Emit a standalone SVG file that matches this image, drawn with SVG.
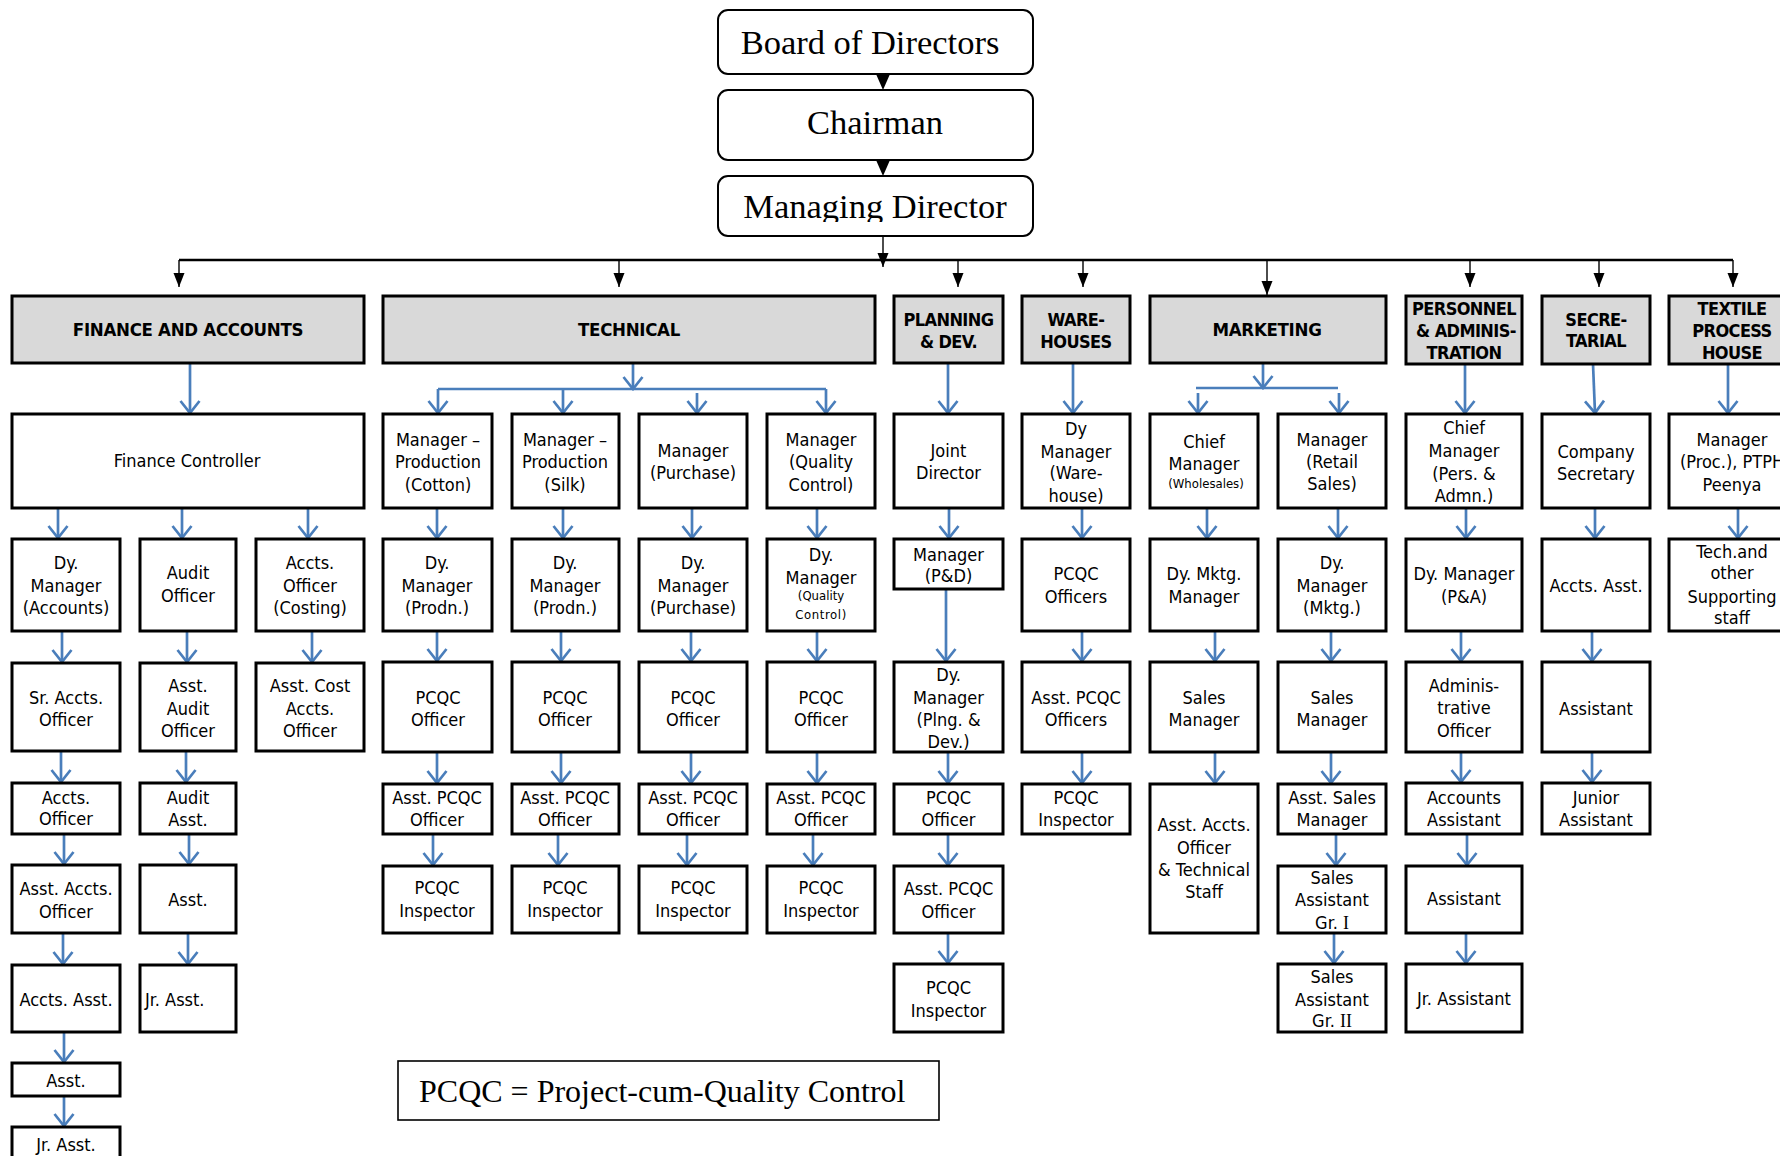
<svg xmlns="http://www.w3.org/2000/svg" width="1780" height="1156" viewBox="0 0 1780 1156">
<style>
.box{fill:#fff;stroke:#000;stroke-width:3}
.dept{fill:#d9d9d9;stroke:#000;stroke-width:3}
.top{fill:#fff;stroke:#000;stroke-width:2}
.t{font-family:"DejaVu Sans Condensed","DejaVu Sans",sans-serif;font-stretch:condensed;font-size:18px;text-anchor:middle;fill:#000}
.h{font-weight:bold;font-size:18.5px;letter-spacing:-0.3px}
.m{font-size:18px;letter-spacing:-0.6px}
.s{font-size:13px}
.ser{font-family:"Liberation Serif","Times New Roman",serif;font-size:34.5px;text-anchor:middle;fill:#000}
.blue{stroke:#4a7ebb;stroke-width:2.7;fill:none;marker-end:url(#ob)}
.blueline{stroke:#4a7ebb;stroke-width:2.7;fill:none}
.blk{stroke:#000;stroke-width:1.4;fill:none;marker-end:url(#tb)}
</style>
<defs>
<marker id="ob" viewBox="-14 -11 16 22" refX="0" refY="0" markerWidth="16" markerHeight="22" markerUnits="userSpaceOnUse" orient="auto">
<path d="M-12,-9.5 L0,0 L-12,9.5" fill="none" stroke="#4a7ebb" stroke-width="2.7"/>
</marker>
<marker id="tb" viewBox="-15 -7 16 14" refX="0" refY="0" markerWidth="16" markerHeight="14" markerUnits="userSpaceOnUse" orient="auto">
<path d="M-14,-5.5 L0,0 L-14,5.5 Z" fill="#000"/>
</marker>
<clipPath id="mdclip"><rect x="718" y="176" width="315" height="46"/></clipPath>
</defs>
<rect width="1780" height="1156" fill="#fff"/>

<!-- connectors -->
<g id="connectors">
<polygon points="876,74 890,74 883,90" fill="#000"/>
<polygon points="876,160 890,160 883,176" fill="#000"/>
<path class="blk" d="M883,236 V267"/>
<path d="M179,260 H1733" stroke="#000" stroke-width="2.5"/>
<path class="blk" d="M179,260 V287"/>
<path class="blk" d="M619,260 V287"/>
<path class="blk" d="M958,260 V287"/>
<path class="blk" d="M1083,260 V287"/>
<path class="blk" d="M1267,260 V295"/>
<path class="blk" d="M1470,260 V287"/>
<path class="blk" d="M1599,260 V287"/>
<path class="blk" d="M1733,260 V287"/>

<!-- finance -->
<path class="blue" d="M190,363 V413"/>
<path class="blue" d="M58,508 V538"/>
<path class="blue" d="M182,508 V538"/>
<path class="blue" d="M308,508 V538"/>
<path class="blue" d="M62,631 V662"/>
<path class="blue" d="M61,751 V782"/>
<path class="blue" d="M64,834 V864"/>
<path class="blue" d="M63,933 V964"/>
<path class="blue" d="M64,1032 V1062"/>
<path class="blue" d="M64,1096 V1126"/>
<path class="blue" d="M187,631 V662"/>
<path class="blue" d="M186,751 V782"/>
<path class="blue" d="M189,834 V864"/>
<path class="blue" d="M188,933 V964"/>
<path class="blue" d="M312,631 V662"/>

<!-- technical -->
<path class="blue" d="M633,363 V389"/>
<path class="blueline" d="M438,389 H826"/>
<path class="blue" d="M438,389 V413"/>
<path class="blue" d="M563,389 V413"/>
<path class="blue" d="M697,393 V413"/>
<path class="blue" d="M826,389 V413"/>
<path class="blue" d="M437,508 V538"/>
<path class="blue" d="M437,631 V661"/>
<path class="blue" d="M437,752 V783"/>
<path class="blue" d="M433,834 V865"/>
<path class="blue" d="M563,508 V538"/>
<path class="blue" d="M561,631 V661"/>
<path class="blue" d="M561,752 V783"/>
<path class="blue" d="M558,834 V865"/>
<path class="blue" d="M692,508 V538"/>
<path class="blue" d="M691,631 V661"/>
<path class="blue" d="M691,752 V783"/>
<path class="blue" d="M687,834 V865"/>
<path class="blue" d="M817,508 V538"/>
<path class="blue" d="M817,631 V661"/>
<path class="blue" d="M817,752 V783"/>
<path class="blue" d="M813,834 V865"/>

<!-- planning -->
<path class="blue" d="M948,363 V413"/>
<path class="blue" d="M949,508 V538"/>
<path class="blue" d="M946,589 V661"/>
<path class="blue" d="M948,752 V783"/>
<path class="blue" d="M948,834 V865"/>
<path class="blue" d="M948,933 V963"/>

<!-- warehouses -->
<path class="blue" d="M1073,363 V413"/>
<path class="blue" d="M1082,508 V538"/>
<path class="blue" d="M1082,631 V661"/>
<path class="blue" d="M1082,752 V783"/>

<!-- marketing -->
<path class="blue" d="M1263,363 V388"/>
<path class="blueline" d="M1196,388 H1338"/>
<path class="blue" d="M1198,393 V413"/>
<path class="blue" d="M1339,393 V413"/>
<path class="blue" d="M1207,508 V538"/>
<path class="blue" d="M1215,631 V661"/>
<path class="blue" d="M1215,752 V783"/>
<path class="blue" d="M1338,508 V538"/>
<path class="blue" d="M1331,631 V661"/>
<path class="blue" d="M1331,752 V783"/>
<path class="blue" d="M1336,834 V865"/>
<path class="blue" d="M1334,933 V963"/>

<!-- personnel -->
<path class="blue" d="M1465,364 V413"/>
<path class="blue" d="M1466,508 V538"/>
<path class="blue" d="M1461,631 V661"/>
<path class="blue" d="M1461,752 V782"/>
<path class="blue" d="M1467,834 V865"/>
<path class="blue" d="M1466,933 V963"/>

<!-- secretarial -->
<path class="blue" d="M1593,364 L1595,413"/>
<path class="blue" d="M1595,508 V538"/>
<path class="blue" d="M1592,631 V661"/>
<path class="blue" d="M1592,752 V782"/>

<!-- textile -->
<path class="blue" d="M1728,364 V413"/>
<path class="blue" d="M1738,508 V538"/>
</g>

<!-- top -->
<g id="board"><rect class="top" x="718" y="10" width="315" height="64" rx="10"/><text class="ser" x="870" y="54">Board of Directors</text></g>
<g id="chairman"><rect class="top" x="718" y="90" width="315" height="70" rx="10"/><text class="ser" x="875" y="134">Chairman</text></g>
<g id="md"><rect class="top" x="718" y="176" width="315" height="60" rx="10"/><text class="ser" x="875" y="218" clip-path="url(#mdclip)">Managing Director</text></g>

<!-- departments -->
<g id="dept-fa"><rect class="dept" x="12" y="296" width="352" height="67"/><text class="t h" x="188" y="336">FINANCE AND ACCOUNTS</text></g>
<g id="dept-tech"><rect class="dept" x="383" y="296" width="492" height="67"/><text class="t h" x="629" y="336">TECHNICAL</text></g>
<g id="dept-plan"><rect class="dept" x="894" y="296" width="109" height="67"/><text class="t h m"><tspan x="948.5" y="326">PLANNING</tspan><tspan x="948.5" y="348">&amp; DEV.</tspan></text></g>
<g id="dept-wh"><rect class="dept" x="1022" y="296" width="108" height="67"/><text class="t h m"><tspan x="1076" y="326">WARE-</tspan><tspan x="1076" y="348">HOUSES</tspan></text></g>
<g id="dept-mkt"><rect class="dept" x="1150" y="296" width="236" height="67"/><text class="t h" x="1267" y="336">MARKETING</text></g>
<g id="dept-pers"><rect class="dept" x="1406" y="296" width="116" height="68"/><text class="t h m"><tspan x="1464" y="315">PERSONNEL</tspan><tspan x="1466" y="337">&amp; ADMINIS-</tspan><tspan x="1464" y="359">TRATION</tspan></text></g>
<g id="dept-sec"><rect class="dept" x="1542" y="296" width="108" height="68"/><text class="t h m"><tspan x="1596" y="326">SECRE-</tspan><tspan x="1596" y="347">TARIAL</tspan></text></g>
<g id="dept-tph"><rect class="dept" x="1669" y="296" width="126" height="68"/><text class="t h m"><tspan x="1732" y="315">TEXTILE</tspan><tspan x="1732" y="337">PROCESS</tspan><tspan x="1732" y="359">HOUSE</tspan></text></g>

<!-- finance nodes -->
<g id="fa-fc"><rect class="box" x="12" y="414" width="352" height="94"/><text class="t" x="187" y="467">Finance Controller</text></g>
<g id="fa-dym"><rect class="box" x="12" y="539" width="108" height="92"/><text class="t"><tspan x="66" y="569">Dy.</tspan><tspan x="66" y="592">Manager</tspan><tspan x="66" y="614">(Accounts)</tspan></text></g>
<g id="fa-srao"><rect class="box" x="12" y="663" width="108" height="88"/><text class="t"><tspan x="66" y="704">Sr. Accts.</tspan><tspan x="66" y="726">Officer</tspan></text></g>
<g id="fa-ao"><rect class="box" x="12" y="783" width="108" height="51"/><text class="t"><tspan x="66" y="804">Accts.</tspan><tspan x="66" y="825">Officer</tspan></text></g>
<g id="fa-aao"><rect class="box" x="12" y="865" width="108" height="68"/><text class="t"><tspan x="66" y="895">Asst. Accts.</tspan><tspan x="66" y="918">Officer</tspan></text></g>
<g id="fa-aa"><rect class="box" x="12" y="965" width="108" height="67"/><text class="t" x="66" y="1006">Accts. Asst.</text></g>
<g id="fa-asst"><rect class="box" x="12" y="1063" width="108" height="33"/><text class="t" x="66" y="1087">Asst.</text></g>
<g id="fa-jra"><rect class="box" x="12" y="1127" width="108" height="36"/><text class="t" x="66" y="1151">Jr. Asst.</text></g>
<g id="fa-audo"><rect class="box" x="140" y="539" width="96" height="92"/><text class="t"><tspan x="188" y="579">Audit</tspan><tspan x="188" y="602">Officer</tspan></text></g>
<g id="fa-aaudo"><rect class="box" x="140" y="663" width="96" height="88"/><text class="t"><tspan x="188" y="692">Asst.</tspan><tspan x="188" y="715">Audit</tspan><tspan x="188" y="737">Officer</tspan></text></g>
<g id="fa-auda"><rect class="box" x="140" y="783" width="96" height="51"/><text class="t"><tspan x="188" y="804">Audit</tspan><tspan x="188" y="826">Asst.</tspan></text></g>
<g id="fa-asst2"><rect class="box" x="140" y="865" width="96" height="68"/><text class="t" x="188" y="906">Asst.</text></g>
<g id="fa-jra2"><rect class="box" x="140" y="965" width="96" height="67"/><text class="t" x="145" y="1006" style="text-anchor:start">Jr. Asst.</text></g>
<g id="fa-aoc"><rect class="box" x="256" y="539" width="108" height="92"/><text class="t"><tspan x="310" y="569">Accts.</tspan><tspan x="310" y="592">Officer</tspan><tspan x="310" y="614">(Costing)</tspan></text></g>
<g id="fa-acao"><rect class="box" x="256" y="663" width="108" height="88"/><text class="t"><tspan x="310" y="692">Asst. Cost</tspan><tspan x="310" y="715">Accts.</tspan><tspan x="310" y="737">Officer</tspan></text></g>

<!-- technical nodes -->
<g id="te-mpc"><rect class="box" x="383" y="414" width="109" height="94"/><text class="t"><tspan x="438" y="446">Manager –</tspan><tspan x="438" y="468">Production</tspan><tspan x="438" y="491">(Cotton)</tspan></text></g>
<g id="te-mps"><rect class="box" x="512" y="414" width="107" height="94"/><text class="t"><tspan x="565" y="446">Manager –</tspan><tspan x="565" y="468">Production</tspan><tspan x="565" y="491">(Silk)</tspan></text></g>
<g id="te-mpu"><rect class="box" x="639" y="414" width="108" height="94"/><text class="t"><tspan x="693" y="457">Manager</tspan><tspan x="693" y="479">(Purchase)</tspan></text></g>
<g id="te-mqc"><rect class="box" x="767" y="414" width="108" height="94"/><text class="t"><tspan x="821" y="446">Manager</tspan><tspan x="821" y="468">(Quality</tspan><tspan x="821" y="491">Control)</tspan></text></g>
<g id="te-dmc"><rect class="box" x="383" y="539" width="109" height="92"/><text class="t"><tspan x="437" y="569">Dy.</tspan><tspan x="437" y="592">Manager</tspan><tspan x="437" y="614">(Prodn.)</tspan></text></g>
<g id="te-dms"><rect class="box" x="512" y="539" width="107" height="92"/><text class="t"><tspan x="565" y="569">Dy.</tspan><tspan x="565" y="592">Manager</tspan><tspan x="565" y="614">(Prodn.)</tspan></text></g>
<g id="te-dmp"><rect class="box" x="639" y="539" width="108" height="92"/><text class="t"><tspan x="693" y="569">Dy.</tspan><tspan x="693" y="592">Manager</tspan><tspan x="693" y="614">(Purchase)</tspan></text></g>
<g id="te-dmq"><rect class="box" x="767" y="539" width="108" height="92"/><text class="t"><tspan x="821" y="561">Dy.</tspan><tspan x="821" y="584">Manager</tspan><tspan class="s" x="821" y="600">(Quality</tspan><tspan class="s" x="821" y="619" style="letter-spacing:0.6px">Control)</tspan></text></g>
<g id="te-po1"><rect class="box" x="383" y="662" width="109" height="90"/><text class="t"><tspan x="438" y="704">PCQC</tspan><tspan x="438" y="726">Officer</tspan></text></g>
<g id="te-po2"><rect class="box" x="512" y="662" width="107" height="90"/><text class="t"><tspan x="565" y="704">PCQC</tspan><tspan x="565" y="726">Officer</tspan></text></g>
<g id="te-po3"><rect class="box" x="639" y="662" width="108" height="90"/><text class="t"><tspan x="693" y="704">PCQC</tspan><tspan x="693" y="726">Officer</tspan></text></g>
<g id="te-po4"><rect class="box" x="767" y="662" width="108" height="90"/><text class="t"><tspan x="821" y="704">PCQC</tspan><tspan x="821" y="726">Officer</tspan></text></g>
<g id="te-apo1"><rect class="box" x="383" y="784" width="109" height="50"/><text class="t"><tspan x="437" y="804">Asst. PCQC</tspan><tspan x="437" y="826">Officer</tspan></text></g>
<g id="te-apo2"><rect class="box" x="512" y="784" width="107" height="50"/><text class="t"><tspan x="565" y="804">Asst. PCQC</tspan><tspan x="565" y="826">Officer</tspan></text></g>
<g id="te-apo3"><rect class="box" x="639" y="784" width="108" height="50"/><text class="t"><tspan x="693" y="804">Asst. PCQC</tspan><tspan x="693" y="826">Officer</tspan></text></g>
<g id="te-apo4"><rect class="box" x="767" y="784" width="108" height="50"/><text class="t"><tspan x="821" y="804">Asst. PCQC</tspan><tspan x="821" y="826">Officer</tspan></text></g>
<g id="te-pi1"><rect class="box" x="383" y="866" width="109" height="67"/><text class="t"><tspan x="437" y="894">PCQC</tspan><tspan x="437" y="917">Inspector</tspan></text></g>
<g id="te-pi2"><rect class="box" x="512" y="866" width="107" height="67"/><text class="t"><tspan x="565" y="894">PCQC</tspan><tspan x="565" y="917">Inspector</tspan></text></g>
<g id="te-pi3"><rect class="box" x="639" y="866" width="108" height="67"/><text class="t"><tspan x="693" y="894">PCQC</tspan><tspan x="693" y="917">Inspector</tspan></text></g>
<g id="te-pi4"><rect class="box" x="767" y="866" width="108" height="67"/><text class="t"><tspan x="821" y="894">PCQC</tspan><tspan x="821" y="917">Inspector</tspan></text></g>

<!-- planning nodes -->
<g id="pl-jd"><rect class="box" x="894" y="414" width="109" height="94"/><text class="t"><tspan x="948.5" y="457">Joint</tspan><tspan x="948.5" y="479">Director</tspan></text></g>
<g id="pl-mpd"><rect class="box" x="894" y="539" width="109" height="50"/><text class="t"><tspan x="948.5" y="561">Manager</tspan><tspan x="948.5" y="582">(P&amp;D)</tspan></text></g>
<g id="pl-dm"><rect class="box" x="894" y="662" width="109" height="90"/><text class="t"><tspan x="948.5" y="681">Dy.</tspan><tspan x="948.5" y="704">Manager</tspan><tspan x="948.5" y="726">(Plng. &amp;</tspan><tspan x="948.5" y="748">Dev.)</tspan></text></g>
<g id="pl-po"><rect class="box" x="894" y="784" width="109" height="50"/><text class="t"><tspan x="948.5" y="804">PCQC</tspan><tspan x="948.5" y="826">Officer</tspan></text></g>
<g id="pl-apo"><rect class="box" x="894" y="866" width="109" height="67"/><text class="t"><tspan x="948.5" y="895">Asst. PCQC</tspan><tspan x="948.5" y="918">Officer</tspan></text></g>
<g id="pl-pi"><rect class="box" x="894" y="964" width="109" height="68"/><text class="t"><tspan x="948.5" y="994">PCQC</tspan><tspan x="948.5" y="1017">Inspector</tspan></text></g>

<!-- warehouse nodes -->
<g id="wh-dm"><rect class="box" x="1022" y="414" width="108" height="94"/><text class="t"><tspan x="1076" y="435">Dy</tspan><tspan x="1076" y="458">Manager</tspan><tspan x="1076" y="479">(Ware-</tspan><tspan x="1076" y="502">house)</tspan></text></g>
<g id="wh-po"><rect class="box" x="1022" y="539" width="108" height="92"/><text class="t"><tspan x="1076" y="580">PCQC</tspan><tspan x="1076" y="603">Officers</tspan></text></g>
<g id="wh-apo"><rect class="box" x="1022" y="662" width="108" height="90"/><text class="t"><tspan x="1076" y="704">Asst. PCQC</tspan><tspan x="1076" y="726">Officers</tspan></text></g>
<g id="wh-pi"><rect class="box" x="1022" y="784" width="108" height="50"/><text class="t"><tspan x="1076" y="804">PCQC</tspan><tspan x="1076" y="826">Inspector</tspan></text></g>

<!-- marketing nodes -->
<g id="mk-cm"><rect class="box" x="1150" y="414" width="108" height="94"/><text class="t"><tspan x="1204" y="448">Chief</tspan><tspan x="1204" y="470">Manager</tspan><tspan class="s" x="1206" y="488">(Wholesales)</tspan></text></g>
<g id="mk-mrs"><rect class="box" x="1278" y="414" width="108" height="94"/><text class="t"><tspan x="1332" y="446">Manager</tspan><tspan x="1332" y="468">(Retail</tspan><tspan x="1332" y="490">Sales)</tspan></text></g>
<g id="mk-dmm"><rect class="box" x="1150" y="539" width="108" height="92"/><text class="t"><tspan x="1204" y="580">Dy. Mktg.</tspan><tspan x="1204" y="603">Manager</tspan></text></g>
<g id="mk-dm"><rect class="box" x="1278" y="539" width="108" height="92"/><text class="t"><tspan x="1332" y="569">Dy.</tspan><tspan x="1332" y="592">Manager</tspan><tspan x="1332" y="614">(Mktg.)</tspan></text></g>
<g id="mk-sm1"><rect class="box" x="1150" y="662" width="108" height="90"/><text class="t"><tspan x="1204" y="704">Sales</tspan><tspan x="1204" y="726">Manager</tspan></text></g>
<g id="mk-sm2"><rect class="box" x="1278" y="662" width="108" height="90"/><text class="t"><tspan x="1332" y="704">Sales</tspan><tspan x="1332" y="726">Manager</tspan></text></g>
<g id="mk-aao"><rect class="box" x="1150" y="784" width="108" height="149"/><text class="t"><tspan x="1204" y="831">Asst. Accts.</tspan><tspan x="1204" y="854">Officer</tspan><tspan x="1204" y="876">&amp; Technical</tspan><tspan x="1204" y="898">Staff</tspan></text></g>
<g id="mk-asm"><rect class="box" x="1278" y="784" width="108" height="50"/><text class="t"><tspan x="1332" y="804">Asst. Sales</tspan><tspan x="1332" y="826">Manager</tspan></text></g>
<g id="mk-sa1"><rect class="box" x="1278" y="866" width="108" height="67"/><text class="t"><tspan x="1332" y="884">Sales</tspan><tspan x="1332" y="906">Assistant</tspan><tspan x="1332" y="929">Gr. <tspan style="font-family:'Liberation Serif',serif">I</tspan></tspan></text></g>
<g id="mk-sa2"><rect class="box" x="1278" y="964" width="108" height="68"/><text class="t"><tspan x="1332" y="983">Sales</tspan><tspan x="1332" y="1006">Assistant</tspan><tspan x="1332" y="1027">Gr. <tspan style="font-family:'Liberation Serif',serif">II</tspan></tspan></text></g>

<!-- personnel nodes -->
<g id="pa-cm"><rect class="box" x="1406" y="414" width="116" height="94"/><text class="t"><tspan x="1464" y="434">Chief</tspan><tspan x="1464" y="457">Manager</tspan><tspan x="1464" y="480">(Pers. &amp;</tspan><tspan x="1464" y="502">Admn.)</tspan></text></g>
<g id="pa-dm"><rect class="box" x="1406" y="539" width="116" height="92"/><text class="t"><tspan x="1464" y="580">Dy. Manager</tspan><tspan x="1464" y="603">(P&amp;A)</tspan></text></g>
<g id="pa-ao"><rect class="box" x="1406" y="662" width="116" height="90"/><text class="t"><tspan x="1464" y="692">Adminis-</tspan><tspan x="1464" y="714">trative</tspan><tspan x="1464" y="737">Officer</tspan></text></g>
<g id="pa-aa"><rect class="box" x="1406" y="783" width="116" height="51"/><text class="t"><tspan x="1464" y="804">Accounts</tspan><tspan x="1464" y="826">Assistant</tspan></text></g>
<g id="pa-as"><rect class="box" x="1406" y="866" width="116" height="67"/><text class="t" x="1464" y="905">Assistant</text></g>
<g id="pa-jr"><rect class="box" x="1406" y="964" width="116" height="68"/><text class="t" x="1464" y="1005">Jr. Assistant</text></g>

<!-- secretarial nodes -->
<g id="se-cs"><rect class="box" x="1542" y="414" width="108" height="94"/><text class="t"><tspan x="1596" y="458">Company</tspan><tspan x="1596" y="480">Secretary</tspan></text></g>
<g id="se-aa"><rect class="box" x="1542" y="539" width="108" height="92"/><text class="t" x="1596" y="592">Accts. Asst.</text></g>
<g id="se-as"><rect class="box" x="1542" y="662" width="108" height="90"/><text class="t" x="1596" y="715">Assistant</text></g>
<g id="se-ja"><rect class="box" x="1542" y="783" width="108" height="51"/><text class="t"><tspan x="1596" y="804">Junior</tspan><tspan x="1596" y="826">Assistant</tspan></text></g>

<!-- textile nodes -->
<g id="tp-m"><rect class="box" x="1669" y="414" width="126" height="94"/><text class="t"><tspan x="1732" y="446">Manager</tspan><tspan x="1732" y="468">(Proc.), PTPH</tspan><tspan x="1732" y="491">Peenya</tspan></text></g>
<g id="tp-s"><rect class="box" x="1669" y="539" width="126" height="92"/><text class="t"><tspan x="1732" y="558">Tech.and</tspan><tspan x="1732" y="579">other</tspan><tspan x="1732" y="603">Supporting</tspan><tspan x="1732" y="624">staff</tspan></text></g>

<!-- legend -->
<g id="legend"><rect x="398" y="1061" width="541" height="59" fill="#fff" stroke="#000" stroke-width="1.6"/><text x="419" y="1102" style="font-family:'Liberation Serif','Times New Roman',serif;font-size:32px;fill:#000">PCQC = Project-cum-Quality Control</text></g>
</svg>
